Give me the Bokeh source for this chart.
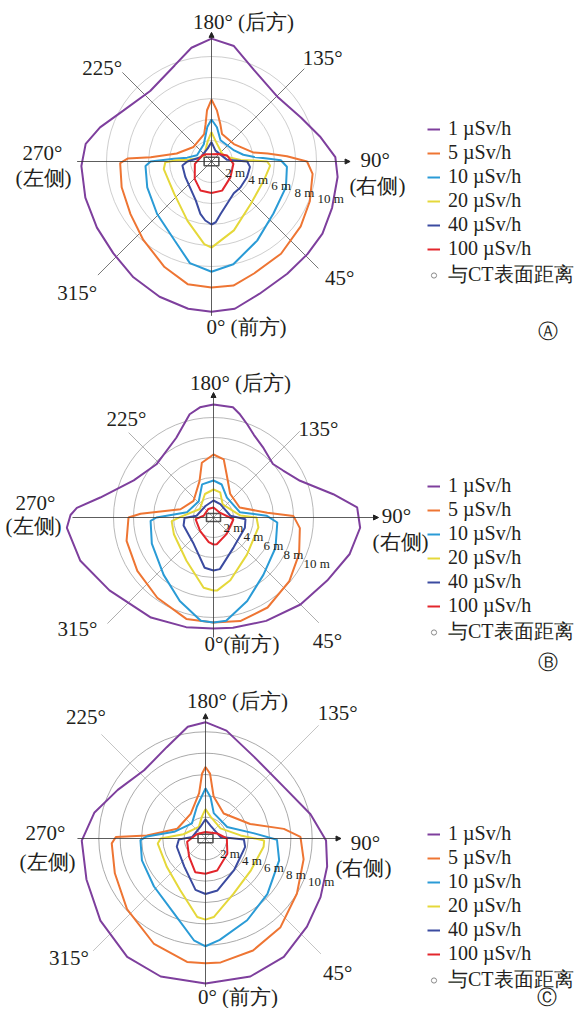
import numpy as np
from bokeh.plotting import figure
from bokeh.layouts import column
from bokeh.models import Range1d, Legend, LegendItem, Arrow, NormalHead
from bokeh.core.properties import value
from bokeh.embed import file_html
from bokeh.resources import INLINE

# ---------------- data ----------------
levels = ["1 µSv/h", "5 µSv/h", "10 µSv/h", "20 µSv/h", "40 µSv/h", "100 µSv/h"]
level_colors = ["#7E3F9D", "#EE7533", "#2A9BD6", "#E5D83A", "#3B4BA0", "#E3262C"]
ring_m = [2, 4, 6, 8, 10]
ring_labels = ["2 m", "4 m", "6 m", "8 m", "10 m"]
legend_extra = "与CT表面距离"

# Panel A  (angle in degrees: 0 = front/bottom, 90 = right, 180 = back/top, 270 = left; radius in m)
A1_deg = [0, 9, 20, 34, 46, 57, 69, 83, 92, 103, 116, 134, 155, 169, 180, 190, 201, 221, 240, 253, 262, 272, 286, 300, 313, 326, 339, 351]
A1_m = [14.3, 14.2, 13.4, 12.9, 12.7, 12.6, 12.3, 12.1, 11.8, 10.6, 9.5, 8.8, 9.6, 11.2, 11.7, 11.0, 9.8, 8.9, 9.7, 11.1, 12.1, 12.4, 12.5, 12.6, 12.8, 13.3, 13.8, 14.2]
A5_deg = [0, 10, 21, 37, 54, 68, 83, 90, 94, 98, 102, 128, 159, 167, 174, 180, 185, 189, 195, 231, 257, 266, 268, 271, 286, 303, 319, 336, 349]
A5_m = [12.0, 12.0, 11.4, 11.0, 10.5, 10.1, 9.7, 9.1, 7.2, 5.4, 4.1, 2.7, 2.8, 3.7, 4.9, 5.9, 4.9, 3.6, 2.7, 2.2, 3.4, 5.8, 8.0, 8.7, 8.9, 9.2, 9.9, 11.0, 11.9]
A10_deg = [0, 12, 30, 50, 71, 86, 91, 93, 96, 102, 116, 157, 171, 180, 187, 204, 247, 261, 266, 270, 274, 292, 314, 335, 348]
A10_m = [10.5, 10.0, 8.7, 7.7, 7.5, 7.2, 6.6, 5.3, 4.1, 3.1, 2.4, 2.2, 3.3, 4.0, 3.3, 1.8, 1.5, 2.35, 3.6, 5.8, 6.3, 6.6, 7.2, 8.3, 9.9]
A20_deg = [0, 18, 43, 70, 86, 90, 91.5, 93, 101, 126, 169, 180, 190, 232, 258, 266, 268, 271, 279, 311, 338, 355]
A20_m = [8.2, 6.9, 5.5, 5.3, 5.6, 5.3, 4.0, 2.8, 1.85, 1.25, 2.0, 2.8, 2.0, 0.9, 1.4, 2.3, 3.3, 4.4, 4.6, 4.7, 6.1, 7.9]
A40_deg = [0, 4, 10, 20, 35, 48, 66, 82, 90, 96, 160, 180, 196, 248, 270, 278, 301, 338, 348, 354]
A40_m = [6.0, 5.8, 5.05, 4.3, 3.7, 3.7, 3.7, 3.7, 3.4, 1.5, 1.1, 1.85, 1.3, 1.1, 2.3, 2.8, 2.9, 4.0, 5.1, 5.65]
A100_deg = [0, 20, 50, 84, 111, 136, 180, 221, 237, 278, 316, 339]
A100_m = [3.0, 2.95, 2.35, 2.1, 1.6, 1.0, 0.7, 0.9, 1.05, 1.6, 2.3, 2.95]

# Panel B
B1_deg = [0, 10, 27, 45, 61, 75, 86, 94, 101, 113, 124, 132, 145, 154, 160, 166, 170, 180, 187, 193, 205, 227, 245, 260, 266, 269, 274, 288, 305, 328, 346]
B1_m = [11.1, 11.2, 11.6, 12.3, 13.0, 14.1, 14.7, 14.4, 12.2, 9.4, 8.4, 8.0, 8.6, 9.2, 9.9, 10.7, 11.2, 11.3, 11.1, 10.6, 8.8, 7.8, 8.8, 11.5, 13.7, 14.3, 14.7, 14.0, 12.7, 11.8, 11.3]
B5_deg = [0, 14.5, 31, 50, 67, 83, 91, 95, 111, 145, 163, 170, 180, 192, 201, 230, 256, 267, 270, 285, 305, 325, 345]
B5_m = [10.5, 10.7, 10.5, 9.9, 9.3, 8.7, 8.0, 5.4, 2.8, 2.9, 4.5, 5.9, 6.3, 5.6, 3.9, 2.6, 3.4, 7.3, 8.5, 9.0, 9.3, 9.8, 10.5]
B10_deg = [0, 7, 22, 41, 64, 85.5, 92, 101, 146, 166, 180, 199, 222, 259, 270, 273, 293, 319, 338, 353]
B10_m = [10.5, 10.4, 9.0, 7.6, 6.9, 6.4, 5.3, 2.7, 2.4, 3.4, 3.7, 3.5, 2.2, 2.7, 5.7, 6.3, 6.7, 7.6, 9.0, 10.4]
B20_deg = [0, 3, 15, 42, 77.5, 90, 94, 145, 165, 180, 200, 238, 269, 275, 293, 328, 352]
B20_m = [7.3, 7.3, 6.5, 5.0, 4.6, 4.3, 2.7, 1.6, 2.6, 2.8, 2.5, 1.6, 3.3, 4.2, 4.3, 5.1, 7.1]
B40_deg = [0, 7, 34, 72, 87, 96, 153, 180, 215, 264, 271, 285, 323, 350]
B40_m = [5.3, 5.2, 3.6, 3.3, 3.2, 1.7, 1.5, 1.7, 1.4, 1.7, 2.9, 3.1, 3.3, 5.1]
B100_deg = [0, 7, 39, 85, 127, 180, 211, 260, 275, 315, 349]
B100_m = [2.7, 2.7, 2.1, 2.0, 0.8, 1.0, 1.0, 1.0, 1.8, 1.9, 2.5]

# Panel C
C1_deg = [0, 18, 33.5, 49, 63, 77, 89, 103, 123, 149, 169, 180, 189, 203, 222, 241, 257, 271, 289, 308, 326.5, 342]
C1_m = [13.6, 13.6, 13.3, 12.6, 12.1, 11.7, 11.3, 10.1, 8.8, 8.9, 10.3, 10.9, 10.6, 9.3, 8.6, 9.4, 10.7, 11.6, 11.8, 12.5, 13.3, 13.6]
C5_deg = [0, 7, 23, 40, 59, 78, 91, 97, 108, 144, 169, 176, 180, 183, 188, 211, 251, 267, 269, 273, 291, 312, 334, 351.5]
C5_m = [11.7, 11.7, 11.4, 10.9, 10.0, 9.4, 8.9, 7.4, 4.4, 2.9, 4.0, 6.1, 6.7, 6.1, 4.3, 2.7, 2.8, 5.5, 8.4, 8.8, 9.1, 9.9, 11.0, 11.7]
C10_deg = [0, 8, 27, 48, 73.5, 89, 96, 118, 162, 173, 180, 195, 222, 258, 268, 271.5, 289, 313, 337, 353.5]
C10_m = [10.1, 9.6, 8.6, 7.8, 7.2, 6.7, 4.6, 2.3, 2.5, 3.9, 4.7, 3.1, 1.9, 3.0, 5.5, 6.1, 6.3, 6.6, 7.6, 9.6]
C20_deg = [0, 6, 27, 55, 82, 88, 95, 124, 167, 180, 189, 210, 259, 270, 276, 306.5, 334, 354]
C20_m = [7.6, 7.4, 5.8, 5.2, 5.5, 5.5, 3.3, 1.7, 2.1, 2.75, 2.1, 1.25, 2.1, 4.2, 4.5, 4.5, 5.4, 7.4]
C40_deg = [0, 13, 42, 78, 88.5, 96, 159, 180, 203, 263, 272, 286, 323, 349]
C40_m = [5.2, 5.0, 4.0, 3.8, 3.6, 1.4, 1.3, 1.8, 1.2, 1.25, 2.5, 2.8, 3.3, 4.9]
C100_deg = [0, 20, 55, 90, 113, 180, 242, 280, 318, 343]
C100_m = [3.3, 3.2, 2.5, 2.0, 1.2, 0.6, 0.9, 1.75, 2.3, 3.3]

angle_names = ["180° (后方)", "135°", "225°", "270°", "(左侧)", "90°", "(右侧)", "0° (前方)", "315°", "45°"]

SERIF_NAME = "Liberation Serif"
SERIF = value(SERIF_NAME)
W = 576


def polar_xy(deg, m):
    th = np.radians(np.asarray(deg, dtype=float))
    r = np.asarray(m, dtype=float)
    x = r * np.sin(th)
    y = -r * np.cos(th)
    return np.append(x, x[0]), np.append(y, y[0])


def make_panel(curves, height, cx, cy, s, ring_color, diag_color, diag_len, ax_len,
               label_pos, names, ringlab_fit, badge, badge_pos, legend_bottom):
    p = figure(width=W, height=height, output_backend="svg", toolbar_location=None,
               x_range=Range1d(-cx / s, (W - cx) / s),
               y_range=Range1d(-(height - cy) / s, cy / s),
               x_axis_type=None, y_axis_type=None, min_border=0,
               outline_line_color=None, background_fill_color="white",
               border_fill_color="white")
    p.xgrid.visible = False
    p.ygrid.visible = False

    # distance rings
    p.circle(x=[0] * len(ring_m), y=[0] * len(ring_m), radius=ring_m,
             fill_color=None, line_color=ring_color, line_width=0.9)

    # diagonal spokes
    for ang in (45, 135, 225, 315):
        L = diag_len[ang]
        th = np.radians(ang)
        p.segment(x0=[0], y0=[0], x1=[L * np.sin(th)], y1=[-L * np.cos(th)],
                  line_color=diag_color, line_width=0.8)

    # main axes with arrows
    left, right, top, bottom = ax_len
    p.add_layout(Arrow(x_start=-left, y_start=0, x_end=right, y_end=0,
                       line_color="#333333", line_width=0.8,
                       end=NormalHead(size=5, fill_color="#222222", line_color="#222222")))
    p.add_layout(Arrow(x_start=0, y_start=-bottom, x_end=0, y_end=top,
                       line_color="#333333", line_width=0.8,
                       end=NormalHead(size=5, fill_color="#222222", line_color="#222222")))

    # CT symbol at centre
    p.rect(x=[0], y=[0], width=1.4, height=0.8, fill_color="white", fill_alpha=0.0,
           line_color="#555555", line_width=1.6)

    renderers = []
    for (deg, m), col in zip(curves, level_colors):
        x, y = polar_xy(deg, m)
        renderers.append(p.line(x, y, line_color=col, line_width=2.0))
    # legend symbol for the distance rings (not drawn on the plot: NaN position)
    ring_key = p.scatter(x=[np.nan], y=[np.nan], marker="circle", size=7,
                         fill_color=None, line_color="#8a8a8a", line_width=1)

    items = [LegendItem(label=lab, renderers=[r]) for lab, r in zip(levels, renderers)]
    items.append(LegendItem(label=legend_extra, renderers=[ring_key]))
    legend = Legend(items=items, location=(427, legend_bottom), orientation="vertical",
                    glyph_width=13, glyph_height=22, label_height=22, spacing=1,
                    label_standoff=8, padding=0, margin=0, border_line_color=None,
                    background_fill_alpha=0, label_text_font=SERIF_NAME,
                    label_text_font_size="20px", label_text_color="#231F20")
    p.add_layout(legend)

    # angle labels
    lx = [label_pos[n][0] for n in names]
    ly = [label_pos[n][1] for n in names]
    p.text(x=lx, y=ly, text=names, text_align="center", text_baseline="middle",
           text_font=SERIF, text_font_size="21px", text_color="#231F20")

    # ring distance labels
    kx, bx, ky, by = ringlab_fit
    rx = [kx * r + bx for r in ring_m]
    ry = [ky * r + by for r in ring_m]
    p.text(x=rx, y=ry, text=ring_labels, text_align="left", text_baseline="middle",
           text_font=SERIF, text_font_size="13px", text_color="#231F20")

    # panel badge
    p.text(x=[badge_pos[0]], y=[badge_pos[1]], text=[badge], text_align="center",
           text_baseline="middle", text_font=SERIF, text_font_size="20px",
           text_color="#231F20")
    return p


pos_A = {"180° (后方)": (3.05, 13.24), "135°": (10.6, 9.9), "225°": (-10.4, 8.9),
         "270°": (-16.1, 0.8), "(左侧)": (-16.0, -1.6), "90°": (15.6, 0.1),
         "(右侧)": (15.8, -2.3), "0° (前方)": (3.33, -15.75), "315°": (-12.8, -12.5),
         "45°": (12.2, -11.1)}
pA = make_panel([(A1_deg, A1_m), (A5_deg, A5_m), (A10_deg, A10_m), (A20_deg, A20_m),
                 (A40_deg, A40_m), (A100_deg, A100_m)],
                342, 211, 161, 10.5, "#c8c8c8", "#555555",
                {45: 14.4, 135: 12.5, 225: 12.0, 315: 15.3}, (12.8, 13.2, 12.3, 14.7),
                pos_A, angle_names, (1.1, -0.9, -0.31, -0.45), "Ⓐ", (32.0, -16.1), 54)

names_B = ["180° (后方)", "135°", "225°", "270°", "(左侧)", "90°", "(右侧)", "0°(前方)", "315°", "45°"]
pos_B = {"180° (后方)": (2.7, 13.5), "135°": (10.5, 8.9), "225°": (-8.7, 9.9),
         "270°": (-17.8, 1.5), "(左侧)": (-18.0, -0.8), "90°": (18.3, 0.2),
         "(右侧)": (18.7, -2.4), "0°(前方)": (2.85, -12.6), "315°": (-13.6, -11.1),
         "45°": (11.4, -12.3)}
pB = make_panel([(B1_deg, B1_m), (B5_deg, B5_m), (B10_deg, B10_m), (B20_deg, B20_m),
                 (B40_deg, B40_m), (B100_deg, B100_m)],
                334, 213, 175, 10.0, "#b0b0b0", "#999999",
                {45: 14.9, 135: 12.2, 225: 12.0, 315: 15.0}, (14.1, 16.5, 12.5, 12.0),
                pos_B, names_B, (1.0, -1.0, -0.45, -0.1), "Ⓑ", (33.4, -14.4), 31)

pos_C = {"180° (后方)": (3.0, 12.84), "135°": (12.4, 11.8), "225°": (-11.2, 11.4),
         "270°": (-15.0, 0.5), "(左侧)": (-14.8, -2.2), "90°": (15.0, -0.4),
         "(右侧)": (14.8, -2.8), "0° (前方)": (3.05, -14.85), "315°": (-12.8, -11.2),
         "45°": (12.4, -12.6)}
pC = make_panel([(C1_deg, C1_m), (C5_deg, C5_m), (C10_deg, C10_m), (C20_deg, C20_m),
                 (C40_deg, C40_m), (C100_deg, C100_m)],
                332, 205, 162, 10.67, "#a0a0a0", "#b5b5b5",
                {45: 15.3, 135: 15.0, 225: 13.8, 315: 14.9}, (12.0, 12.7, 11.7, 13.9),
                pos_C, angle_names, (1.03, -0.7, -0.32, -0.8), "Ⓒ", (32.05, -14.85), 15)

layout = column(pA, pB, pC, spacing=0)
open("out.html", "w").write(file_html(layout, INLINE))
